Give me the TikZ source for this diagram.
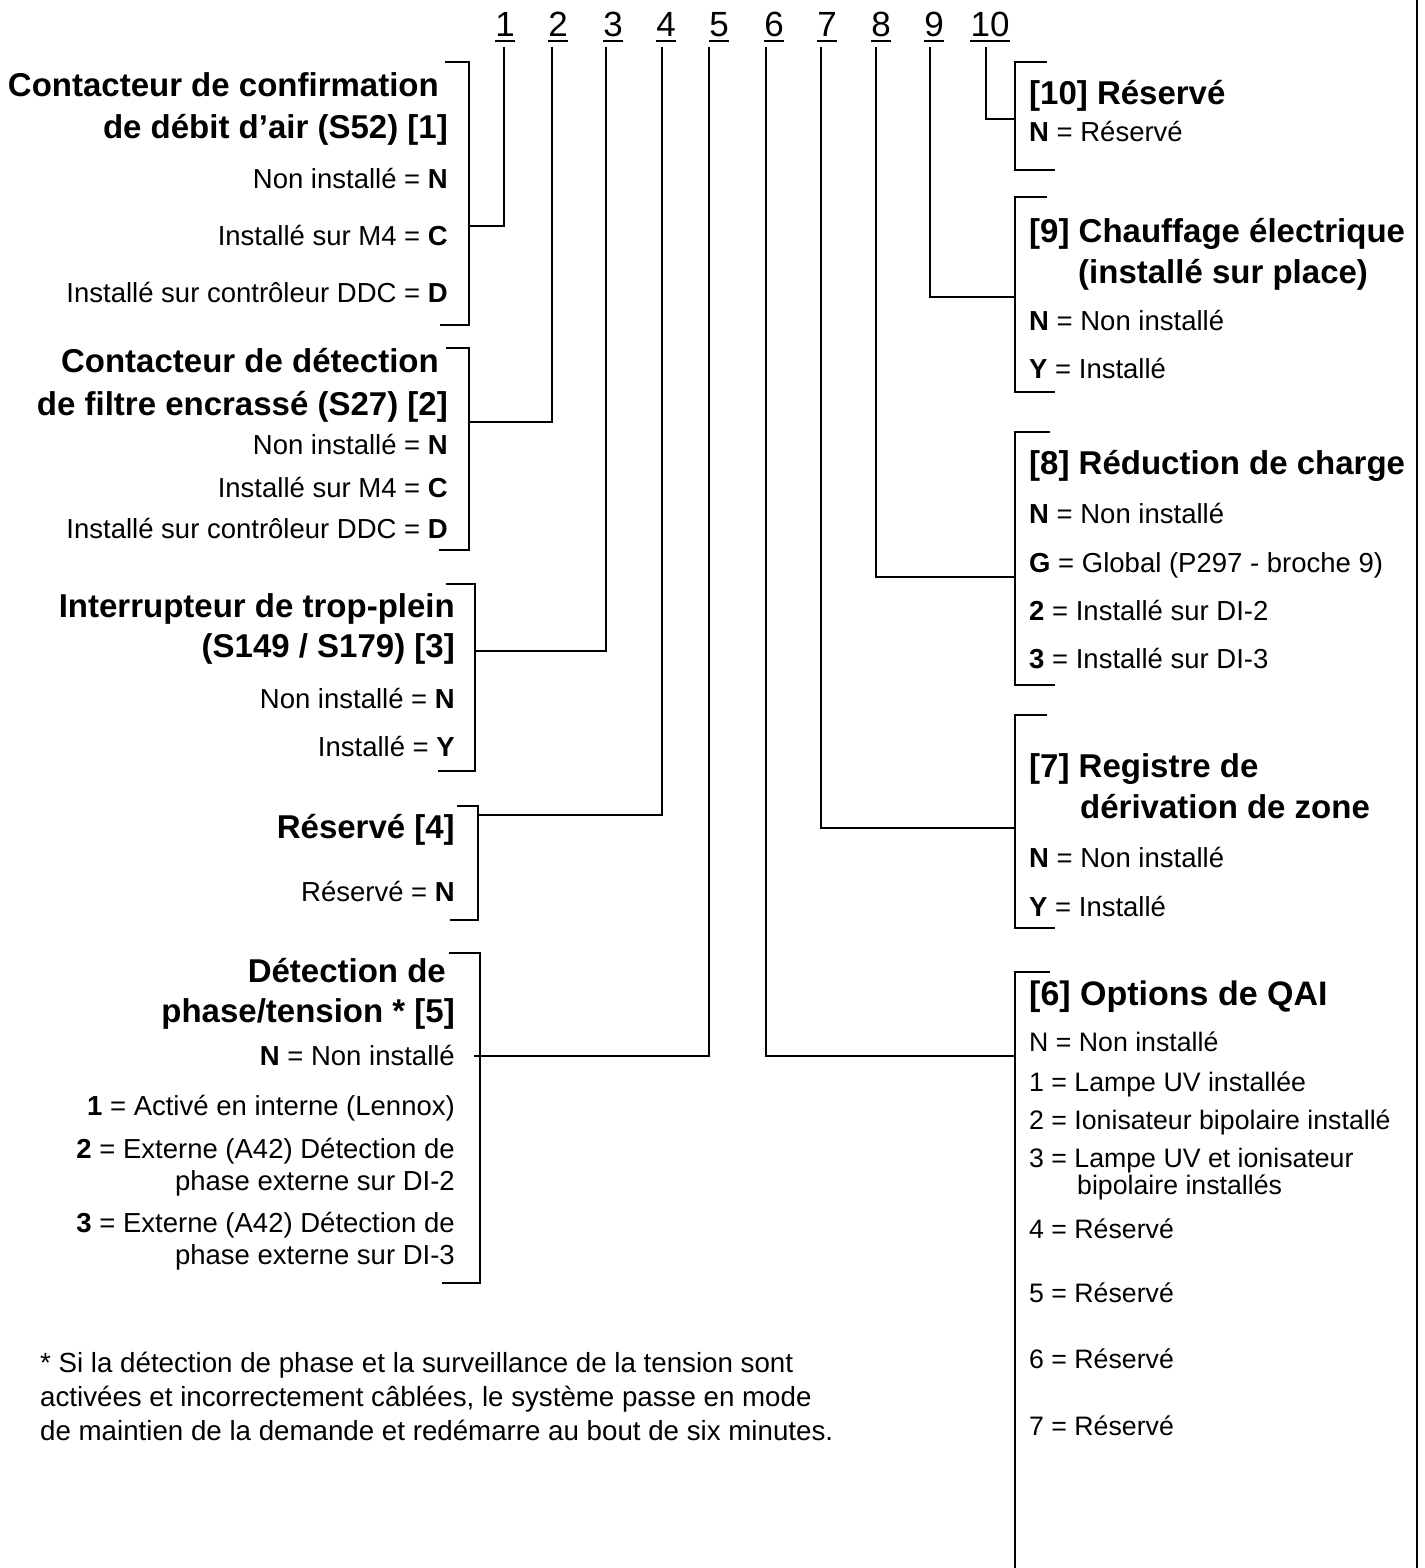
\documentclass[tikz,border=0pt]{standalone}
\usepackage{fontspec}
\setmainfont{Liberation Sans}

\begin{document}
\begin{tikzpicture}[x=1pt,y=-1pt,
    wire/.style={line width=2.6pt},
    num/.style={font=\fontsize{35}{35}\selectfont,anchor=base,inner sep=0pt},
    headL/.style={font=\fontsize{33}{40}\selectfont\bfseries,anchor=base east,inner sep=0pt},
    optL/.style={font=\fontsize{27.5}{32}\selectfont,anchor=base east,inner sep=0pt},
    headR/.style={font=\fontsize{33}{40}\selectfont\bfseries,anchor=base west,inner sep=0pt},
    optR/.style={font=\fontsize{27.5}{32}\selectfont,anchor=base west,inner sep=0pt},
    qaiR/.style={font=\fontsize{26.7}{32}\selectfont,anchor=base west,inner sep=0pt},
    note/.style={font=\fontsize{27.7}{34}\selectfont,anchor=base west,inner sep=0pt}]

  \useasboundingbox (0,0) rectangle (1424,1568);

  % code digits with their drop lines
  \foreach \n/\x/\l in {1/505/504,2/558/552,3/613/606,4/666/662,5/719/709,
                        6/774/766,7/827/821,8/881/876,9/934/930,10/990/986}{
    \node[num] (n\n) at (\x,37) {\n};
    \draw[line width=2pt] ([yshift=-4pt]n\n.base west) -- ([yshift=-4pt]n\n.base east);
    \coordinate (t\n) at (\l,47);
  }

  % page edge
  \draw[wire] (1417,0) -- (1417,1568);

  % [1] air flow switch
  \node[headL] (h1a) at (439,97) {Contacteur de confirmation};
  \node[headL] (h1b) at (448,139) {de débit d’air (S52) [1]};
  \node[optL] (o1a) at (448,188) {Non installé = \textbf{N}};
  \node[optL] (o1b) at (448,245) {Installé sur M4 = \textbf{C}};
  \node[optL] (o1c) at (448,302) {Installé sur contrôleur DDC = \textbf{D}};
  \draw[wire] (445,62) -- (469,62) -- (469,325) -- (440,325);
  \coordinate (j1) at (469,226);
  \draw[wire] (t1) |- (j1);

  % [2] dirty filter switch
  \node[headL] (h2a) at (439,372) {Contacteur de détection};
  \node[headL] (h2b) at (448,415) {de filtre encrassé (S27) [2]};
  \node[optL] (o2a) at (448,454) {Non installé = \textbf{N}};
  \node[optL] (o2b) at (448,497) {Installé sur M4 = \textbf{C}};
  \node[optL] (o2c) at (448,538) {Installé sur contrôleur DDC = \textbf{D}};
  \draw[wire] (446,348) -- (469,348) -- (469,550) -- (439,550);
  \coordinate (j2) at (469,422);
  \draw[wire] (t2) |- (j2);

  % [3] overflow switch
  \node[headL] (h3a) at (455,617) {Interrupteur de trop-plein};
  \node[headL] (h3b) at (455,657) {(S149 / S179) [3]};
  \node[optL] (o3a) at (455,708) {Non installé = \textbf{N}};
  \node[optL] (o3b) at (455,756) {Installé = \textbf{Y}};
  \draw[wire] (446,584) -- (475,584) -- (475,771) -- (438,771);
  \coordinate (j3) at (475,651);
  \draw[wire] (t3) |- (j3);

  % [4] reserved
  \node[headL] (h4) at (455,838) {Réservé [4]};
  \node[optL] (o4) at (455,901) {Réservé = \textbf{N}};
  \draw[wire] (457,806) -- (478,806) -- (478,920) -- (450,920);
  \coordinate (j4) at (478,815);
  \draw[wire] (t4) |- (j4);

  % [5] phase / voltage
  \node[headL] (h5a) at (446,982) {Détection de};
  \node[headL] (h5b) at (455,1022) {phase/tension * [5]};
  \node[optL] (o5a) at (455,1065) {\textbf{N} = Non installé};
  \node[optL] (o5b) at (455,1115) {\textbf{1} = Activé en interne (Lennox)};
  \node[optL] (o5c) at (455,1158) {\textbf{2} = Externe (A42) Détection de};
  \node[optL] (o5d) at (455,1190) {phase externe sur DI-2};
  \node[optL] (o5e) at (455,1232) {\textbf{3} = Externe (A42) Détection de};
  \node[optL] (o5f) at (455,1264) {phase externe sur DI-3};
  \draw[wire] (449,953) -- (480,953) -- (480,1283) -- (442,1283);
  \coordinate (j5) at (474,1056);
  \draw[wire] (t5) |- (j5);

  % footnote
  \node[note] (f1) at (40,1372) {* Si la détection de phase et la surveillance de la tension sont};
  \node[note] (f2) at (40,1406) {activées et incorrectement câblées, le système passe en mode};
  \node[note] (f3) at (40,1440) {de maintien de la demande et redémarre au bout de six minutes.};

  % [10] reserved
  \node[headR] (h10) at (1029,105) {[10] Réservé};
  \node[optR] (o10) at (1029,142) {\textbf{N} = Réservé};
  \draw[wire] (1047,62) -- (1015,62) -- (1015,170) -- (1055,170);
  \coordinate (j10) at (1015,119);
  \draw[wire] (t10) |- (j10);

  % [9] electric heat
  \node[headR] (h9a) at (1029,242) {[9] Chauffage électrique};
  \node[headR] (h9b) at (1078,283) {(installé sur place)};
  \node[optR] (o9a) at (1029,330) {\textbf{N} = Non installé};
  \node[optR] (o9b) at (1029,378) {\textbf{Y} = Installé};
  \draw[wire] (1047,197) -- (1015,197) -- (1015,392) -- (1055,392);
  \coordinate (j9) at (1015,297);
  \draw[wire] (t9) |- (j9);

  % [8] load shedding
  \node[headR] (h8) at (1029,474) {[8] Réduction de charge};
  \node[optR] (o8a) at (1029,523) {\textbf{N} = Non installé};
  \node[optR] (o8b) at (1029,572) {\textbf{G} = Global (P297 - broche 9)};
  \node[optR] (o8c) at (1029,620) {\textbf{2} = Installé sur DI-2};
  \node[optR] (o8d) at (1029,668) {\textbf{3} = Installé sur DI-3};
  \draw[wire] (1050,432) -- (1015,432) -- (1015,685) -- (1055,685);
  \coordinate (j8) at (1015,577);
  \draw[wire] (t8) |- (j8);

  % [7] zone bypass damper
  \node[headR] (h7a) at (1029,777) {[7] Registre de};
  \node[headR] (h7b) at (1080,818) {dérivation de zone};
  \node[optR] (o7a) at (1029,867) {\textbf{N} = Non installé};
  \node[optR] (o7b) at (1029,916) {\textbf{Y} = Installé};
  \draw[wire] (1047,715) -- (1015,715) -- (1015,928) -- (1055,928);
  \coordinate (j7) at (1015,828);
  \draw[wire] (t7) |- (j7);

  % [6] IAQ options
  \node[headR,font=\fontsize{34}{40}\selectfont\bfseries] (h6) at (1029,1005) {[6] Options de QAI};
  \node[qaiR] (o6a) at (1029,1051) {N = Non installé};
  \node[qaiR] (o6b) at (1029,1091) {1 = Lampe UV installée};
  \node[qaiR] (o6c) at (1029,1129) {2 = Ionisateur bipolaire installé};
  \node[qaiR] (o6d) at (1029,1167) {3 = Lampe UV et ionisateur};
  \node[qaiR] (o6e) at (1077,1194) {bipolaire installés};
  \node[qaiR] (o6f) at (1029,1238) {4 = Réservé};
  \node[qaiR] (o6g) at (1029,1302) {5 = Réservé};
  \node[qaiR] (o6h) at (1029,1368) {6 = Réservé};
  \node[qaiR] (o6i) at (1029,1435) {7 = Réservé};
  \draw[wire] (1050,972) -- (1015,972) -- (1015,1568);
  \coordinate (j6) at (1015,1056);
  \draw[wire] (t6) |- (j6);
\end{tikzpicture}
\end{document}
